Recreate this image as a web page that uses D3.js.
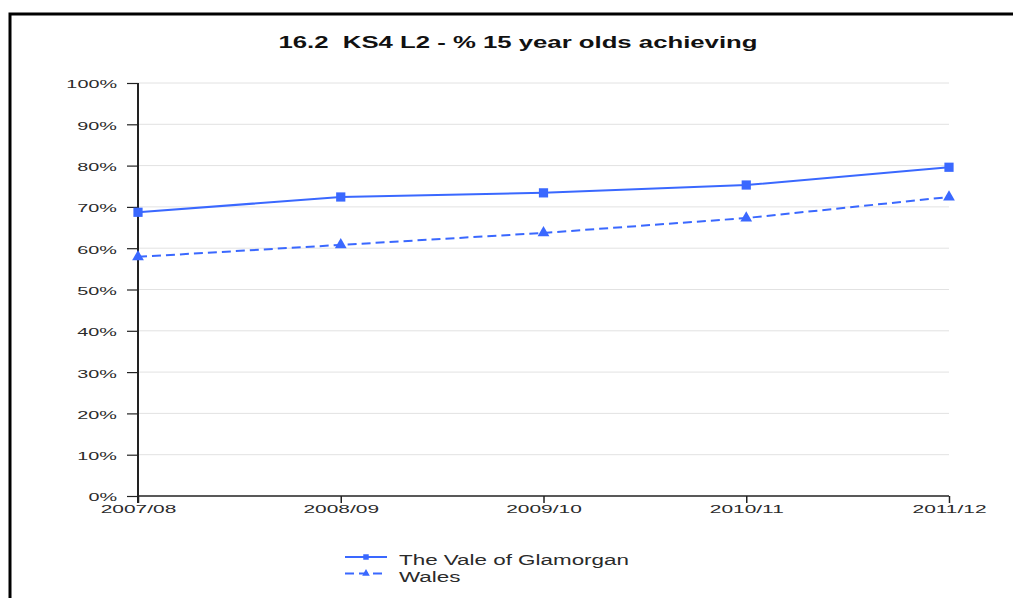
<!DOCTYPE html>
<html>
<head>
<meta charset="utf-8">
<script src="https://cdn.jsdelivr.net/npm/d3@7"></script>
<style>
  html, body { margin: 0; padding: 0; background: #fff; }
  svg { display: block; }
</style>
</head>
<body>
<svg id="chart" width="1013" height="598"></svg>
<script>
// Chart data
const years = ["2007/08", "2008/09", "2009/10", "2010/11", "2011/12"];
const valeOfGlamorgan = [68.7, 72.4, 73.4, 75.3, 79.6];
const wales = [57.9, 60.8, 63.7, 67.3, 72.4];
const yTicks = [0, 10, 20, 30, 40, 50, 60, 70, 80, 90, 100];
const seriesNames = ["The Vale of Glamorgan", "Wales"];
const title = "16.2  KS4 L2 - % 15 year olds achieving";

const blue = "#3a68ff";
const textColor = "#2a2a2a";
const fontFam = "Liberation Sans, Arial, sans-serif";
const svg = d3.select("#chart");

// Stretch a text element horizontally by a factor, keeping its anchor
function widen(sel, k) {
  sel.each(function () {
    const w = this.getComputedTextLength();
    d3.select(this).attr("textLength", w * k).attr("lengthAdjust", "spacingAndGlyphs");
  });
}

// Frame around the chart
svg.append("path")
  .attr("d", "M10,598 L10,14 L1013,14")
  .attr("fill", "none")
  .attr("stroke", "#000")
  .attr("stroke-width", 3);

// Title
svg.append("text")
  .attr("x", 518).attr("y", 48)
  .attr("text-anchor", "middle")
  .attr("font-family", fontFam)
  .attr("font-weight", "bold")
  .attr("font-size", 16)
  .attr("fill", "#111")
  .attr("xml:space", "preserve")
  .attr("textLength", 479)
  .attr("lengthAdjust", "spacingAndGlyphs")
  .text(title);

const x = d3.scalePoint().domain(years).range([138, 949]);
const y = d3.scaleLinear().domain([0, 100]).range([496, 83]);

// Horizontal gridlines
svg.append("g")
  .selectAll("line")
  .data(yTicks.filter(t => t > 0))
  .join("line")
  .attr("x1", 138).attr("x2", 949)
  .attr("y1", d => y(d)).attr("y2", d => y(d))
  .attr("stroke", "#e2e2e2")
  .attr("stroke-width", 1);

// Y axis
const yAxis = svg.append("g")
  .attr("transform", "translate(138,0)")
  .call(d3.axisLeft(y).tickValues(yTicks).tickFormat(d => d + "%").tickSize(11).tickPadding(10));
yAxis.select(".domain").attr("d", `M0,${y(100)}V503`).attr("stroke", "#222").attr("stroke-width", 2);
yAxis.selectAll(".tick line").attr("stroke", "#222").attr("stroke-width", 1.2);
yAxis.selectAll(".tick text")
  .attr("font-family", fontFam).attr("font-size", 11).attr("fill", textColor).attr("dy", "0.45em")
  .call(widen, 1.8);

// X axis
const xAxis = svg.append("g")
  .attr("transform", "translate(0,496)")
  .call(d3.axisBottom(x).tickSize(7));
xAxis.select(".domain").attr("d", "M138,0H949").attr("stroke", "#222").attr("stroke-width", 1.5);
xAxis.selectAll(".tick line").attr("stroke", "#222").attr("stroke-width", 1.5);
xAxis.selectAll(".tick text")
  .attr("font-family", fontFam).attr("font-size", 11).attr("fill", textColor)
  .attr("y", 17).attr("dy", 0)
  .call(widen, 1.9);

// Lines
const line = d3.line().x((d, i) => x(years[i])).y(d => y(d));

svg.append("path")
  .datum(valeOfGlamorgan)
  .attr("d", line)
  .attr("fill", "none")
  .attr("stroke", blue)
  .attr("stroke-width", 2);

svg.append("path")
  .datum(wales)
  .attr("d", line)
  .attr("fill", "none")
  .attr("stroke", blue)
  .attr("stroke-width", 2)
  .attr("stroke-dasharray", "9,5");

// Markers
const square = d3.symbol().type(d3.symbolSquare).size(85);
const triangle = d3.symbol().type(d3.symbolTriangle).size(60);

svg.append("g").selectAll("path")
  .data(valeOfGlamorgan)
  .join("path")
  .attr("d", square)
  .attr("transform", (d, i) => `translate(${x(years[i])},${y(d)})`)
  .attr("fill", blue);

svg.append("g").selectAll("path")
  .data(wales)
  .join("path")
  .attr("d", triangle)
  .attr("transform", (d, i) => `translate(${x(years[i])},${y(d)})`)
  .attr("fill", blue);

// Legend
const legend = svg.append("g");
seriesNames.forEach((name, i) => {
  const ly = 557 + i * 16.5;
  legend.append("line")
    .attr("x1", 345).attr("x2", 387).attr("y1", ly).attr("y2", ly)
    .attr("stroke", blue).attr("stroke-width", 2)
    .attr("stroke-dasharray", i === 1 ? "9,5" : null);
  legend.append("path")
    .attr("d", i === 0 ? d3.symbol().type(d3.symbolSquare).size(30)() : d3.symbol().type(d3.symbolTriangle).size(25)())
    .attr("transform", `translate(366,${ly})`)
    .attr("fill", blue);
  legend.append("text")
    .attr("x", 399).attr("y", ly + 8)
    .attr("font-family", fontFam).attr("font-size", 14)
    .attr("fill", textColor)
    .text(name)
    .call(widen, 1.6);
});
</script>
</body>
</html>
